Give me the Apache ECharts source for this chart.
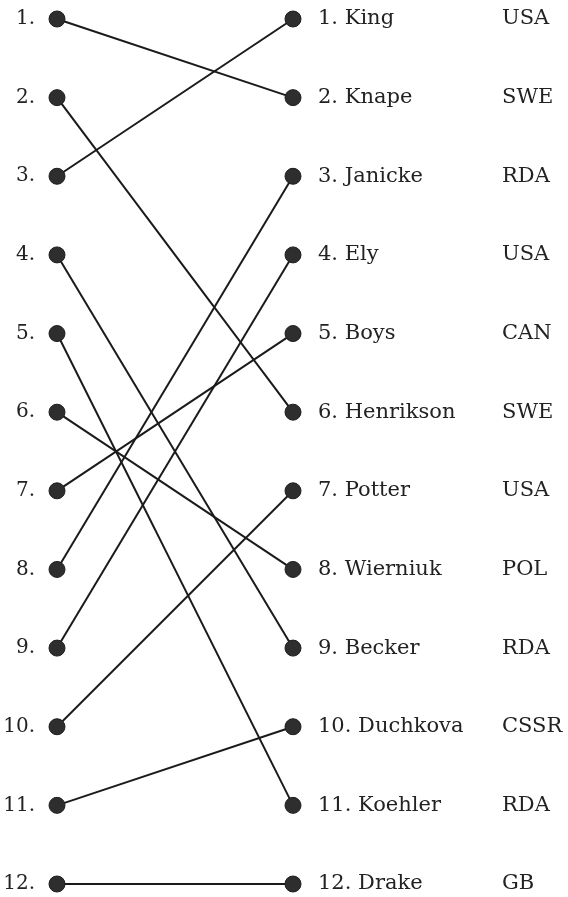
<!DOCTYPE html>
<html>
<head>
<meta charset="utf-8">
<script src="https://cdn.jsdelivr.net/npm/echarts@6/dist/echarts.min.js"></script>
<style>
html,body{margin:0;padding:0;background:#fff;}
#chart{width:568px;height:897px;}
</style>
</head>
<body>
<div id="chart"></div>
<script>
// Finishing order (right column)
const names = ["King","Knape","Janicke","Ely","Boys","Henrikson","Potter","Wierniuk","Becker","Duchkova","Koehler","Drake"];
const countries = ["USA","SWE","RDA","USA","CAN","SWE","USA","POL","RDA","CSSR","RDA","GB"];
const finishRank = [1,2,3,4,5,6,7,8,9,10,11,12];
// Earlier rank (left column) for each finisher
const startRank = [3,1,8,9,7,2,10,6,4,11,5,12];
const rankTicks = [1,2,3,4,5,6,7,8,9,10,11,12];

const FONT = "DejaVu Serif";
const TXT = "#222222";
const FS = 21;

const series = names.map((n, i) => ({
  type: 'line',
  name: n,
  data: [[0, startRank[i]], [1, finishRank[i]]],
  symbol: 'circle',
  symbolSize: 16,
  lineStyle: {color: '#1a1a1a', width: 2},
  itemStyle: {color: '#2e2e2e', borderColor: '#1e1e1e', borderWidth: 1},
  silent: true,
  animation: false,
  z: 2
}));

const chart = echarts.init(document.getElementById('chart'));
chart.setOption({
  backgroundColor: '#ffffff',
  animation: false,
  grid: {left: 57, right: 275, top: 19, bottom: 13},
  xAxis: {type: 'value', min: 0, max: 1, show: false},
  yAxis: [
    {
      type: 'value', inverse: true, min: 1, max: 12, interval: 1, position: 'left',
      axisLine: {show: false}, axisTick: {show: false}, splitLine: {show: false},
      axisLabel: {
        margin: 22, color: TXT, fontFamily: FONT, fontSize: 20,
        formatter: v => rankTicks.includes(v) ? v + '.' : ''
      }
    },
    {
      type: 'value', inverse: true, min: 1, max: 12, interval: 1, position: 'right',
      axisLine: {show: false}, axisTick: {show: false}, splitLine: {show: false},
      axisLabel: {
        margin: 25, color: TXT, fontFamily: FONT, fontSize: FS,
        formatter: v => {
          const i = finishRank.indexOf(v);
          if (i < 0) return '';
          return '{n|' + finishRank[i] + '. ' + names[i] + '}{c|' + countries[i] + '}';
        },
        rich: {
          n: {width: 184, color: TXT, fontFamily: FONT, fontSize: FS},
          c: {color: TXT, fontFamily: FONT, fontSize: FS}
        }
      }
    }
  ],
  series: series
});
</script>
</body>
</html>
